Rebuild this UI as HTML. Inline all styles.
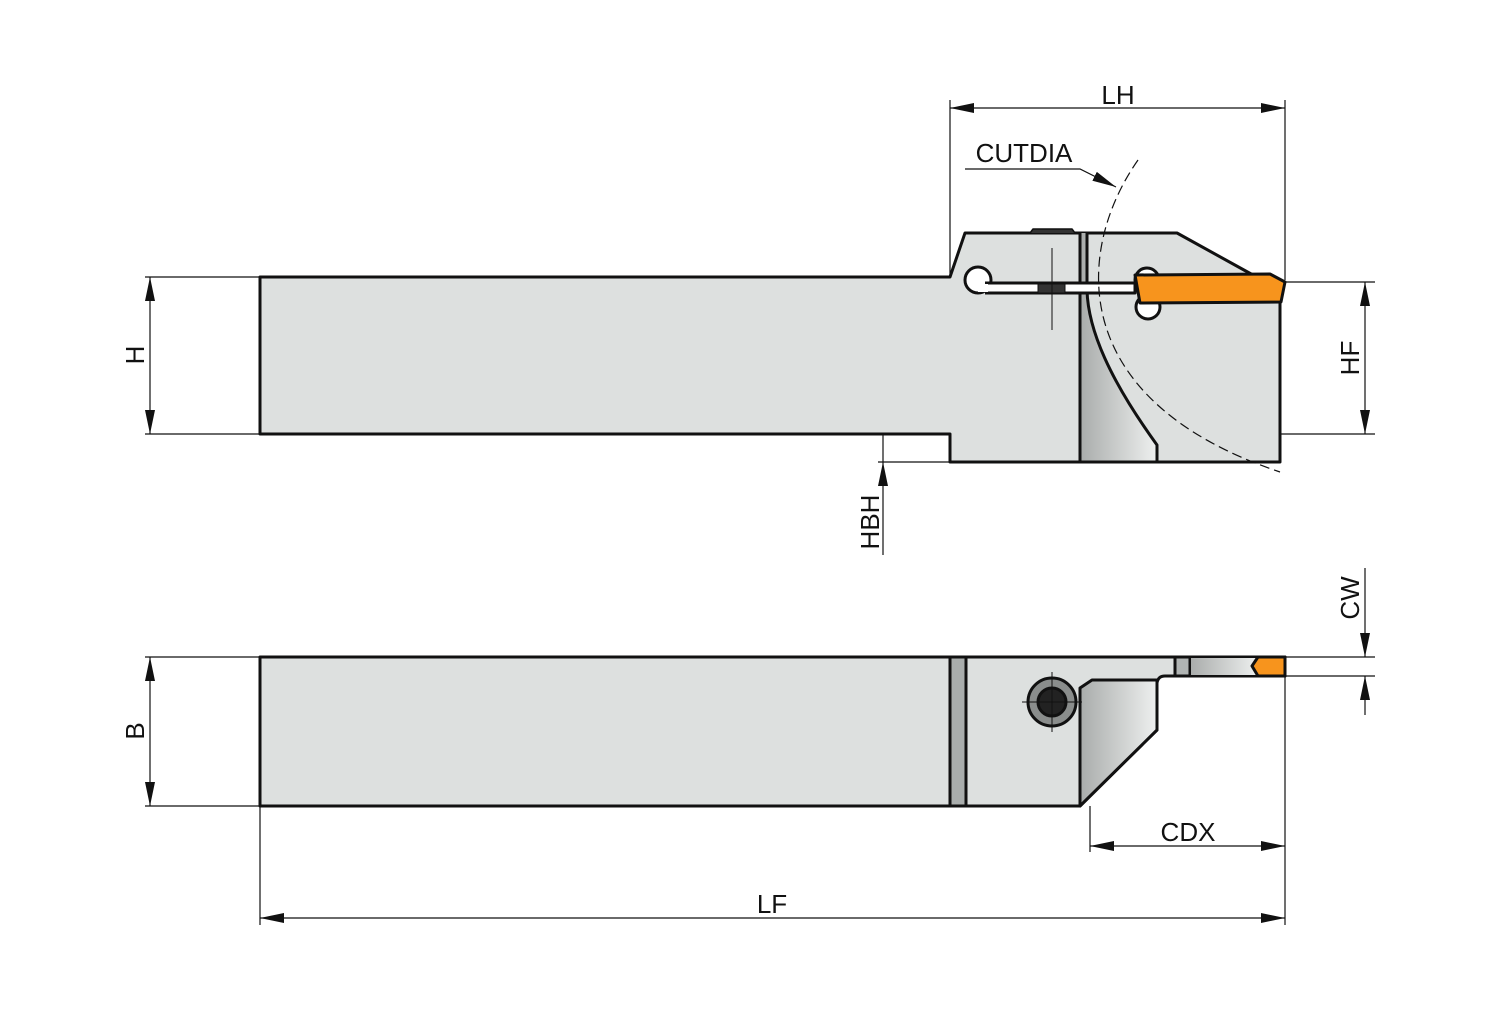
<!DOCTYPE html>
<html><head><meta charset="utf-8"><style>html,body{margin:0;padding:0;background:#fff}svg{display:block}</style></head>
<body>
<svg width="1500" height="1009" viewBox="0 0 1500 1009" xmlns="http://www.w3.org/2000/svg" font-family="Liberation Sans, sans-serif">
<defs>
<marker id="a" viewBox="0 0 24 10" refX="24" refY="5" markerWidth="24" markerHeight="10" markerUnits="userSpaceOnUse" orient="auto-start-reverse"><path d="M0,0 L24,5 L0,10 z" fill="#111"/></marker>
<linearGradient id="g1" x1="0" x2="1"><stop offset="0" stop-color="#a9acab"/><stop offset="1" stop-color="#eef0ef"/></linearGradient>
</defs>
<g stroke="#111" stroke-width="1.2" fill="none">
<line x1="145" y1="277" x2="260" y2="277"/><line x1="145" y1="434" x2="1375" y2="434"/>
<line x1="950" y1="100" x2="950" y2="277"/><line x1="1285" y1="100" x2="1285" y2="280"/>
<line x1="1285" y1="282" x2="1375" y2="282"/>
<line x1="878" y1="462" x2="950" y2="462"/>
<line x1="145" y1="657" x2="260" y2="657"/><line x1="145" y1="806" x2="260" y2="806"/>
<line x1="1285" y1="657" x2="1375" y2="657"/><line x1="1285" y1="676" x2="1375" y2="676"/>
<line x1="260" y1="806" x2="260" y2="925"/><line x1="1285" y1="676" x2="1285" y2="925"/>
<line x1="1090" y1="806" x2="1090" y2="852"/>
<line x1="950" y1="108" x2="1285" y2="108" marker-start="url(#a)" marker-end="url(#a)"/>
<line x1="150" y1="277" x2="150" y2="434" marker-start="url(#a)" marker-end="url(#a)"/>
<line x1="1365" y1="282" x2="1365" y2="434" marker-start="url(#a)" marker-end="url(#a)"/>
<line x1="883" y1="390" x2="883" y2="434" marker-end="url(#a)"/>
<line x1="883" y1="555" x2="883" y2="462" marker-end="url(#a)"/>
<line x1="883" y1="434" x2="883" y2="462"/>
<line x1="150" y1="657" x2="150" y2="806" marker-start="url(#a)" marker-end="url(#a)"/>
<line x1="1365" y1="568" x2="1365" y2="657" marker-end="url(#a)"/>
<line x1="1365" y1="715" x2="1365" y2="676" marker-end="url(#a)"/>
<line x1="1090" y1="846" x2="1285" y2="846" marker-start="url(#a)" marker-end="url(#a)"/>
<line x1="260" y1="918" x2="1285" y2="918" marker-start="url(#a)" marker-end="url(#a)"/>
<polyline points="965,169 1080,169 1116,187" marker-end="url(#a)"/>
</g>
<!-- top view -->
<g stroke="#111" stroke-width="3" stroke-linejoin="round">
<path d="M260,277 L950,277 L965,233 L1177,233 L1253,275 L1280,282 L1280,462 L950,462 L950,434 L260,434 Z" fill="#dde0df"/>
<path d="M1080,233 L1080,462 L1157,462 L1157,445 C1110,380 1088,330 1087,290 L1087,233" fill="url(#g1)"/>
<circle cx="978" cy="280" r="13" fill="#fff"/>
<path d="M985,283 L1135,283 L1135,293 L985,293" fill="#fff"/>
<rect x="978" y="284" width="10" height="8" fill="#fff" stroke="none"/>
<circle cx="1147" cy="280" r="12" fill="#fff"/>
<circle cx="1148" cy="307" r="12" fill="#fff"/>
<path d="M1135,275 L1270,274 L1285,282 L1281,302 L1140,303 Z" fill="#f7941d"/>
<rect x="1038" y="284" width="27" height="9" fill="#333" stroke-width="1"/>
<path d="M1030,233 L1033,229 L1072,229 L1075,233" fill="#333" stroke-width="1.5"/>
</g>
<line x1="1052" y1="248" x2="1052" y2="330" stroke="#111" stroke-width="1"/>
<path d="M1138,160 C1075,250 1065,400 1280,472" fill="none" stroke="#111" stroke-width="1.2" stroke-dasharray="10,5"/>
<!-- bottom view -->
<g stroke="#111" stroke-width="3" stroke-linejoin="round">
<rect x="260" y="657" width="690" height="149" fill="#dde0df"/>
<rect x="950" y="657" width="16" height="149" fill="#a9adac"/>
<path d="M966,657 L1285,657 L1285,676 L1165,676 Q1158,676 1157,683 L1157,730 L1080,806 L966,806 Z" fill="#dde0df"/>
<path d="M1080,806 L1080,688 L1092,680 L1157,680 L1157,730 Z" fill="url(#g1)"/>
<rect x="1175" y="657" width="15" height="19" fill="#b0b4b3"/>
<path d="M1190,657 L1258,657 L1252,666 L1258,676 L1190,676 Z" fill="url(#g1)" stroke-width="2"/>
<path d="M1258,657 L1285,657 L1285,676 L1258,676 L1252,666 Z" fill="#f7941d"/>
<circle cx="1052" cy="702" r="24" fill="#8a8d8c"/>
<circle cx="1052" cy="702" r="14" fill="#222"/>
</g>
<g stroke="#111" stroke-width="1"><line x1="1022" y1="702" x2="1082" y2="702"/><line x1="1052" y1="672" x2="1052" y2="732"/></g>
<g font-size="26" fill="#111">
<text x="1118" y="104" text-anchor="middle">LH</text>
<text x="1024" y="162" text-anchor="middle">CUTDIA</text>
<text x="1188" y="841" text-anchor="middle">CDX</text>
<text x="772" y="913" text-anchor="middle">LF</text>
<text transform="translate(144,355) rotate(-90)" text-anchor="middle">H</text>
<text transform="translate(1359,358) rotate(-90)" text-anchor="middle">HF</text>
<text transform="translate(879,522) rotate(-90)" text-anchor="middle">HBH</text>
<text transform="translate(144,731) rotate(-90)" text-anchor="middle">B</text>
<text transform="translate(1359,598) rotate(-90)" text-anchor="middle">CW</text>
</g>
</svg>
</body></html>
